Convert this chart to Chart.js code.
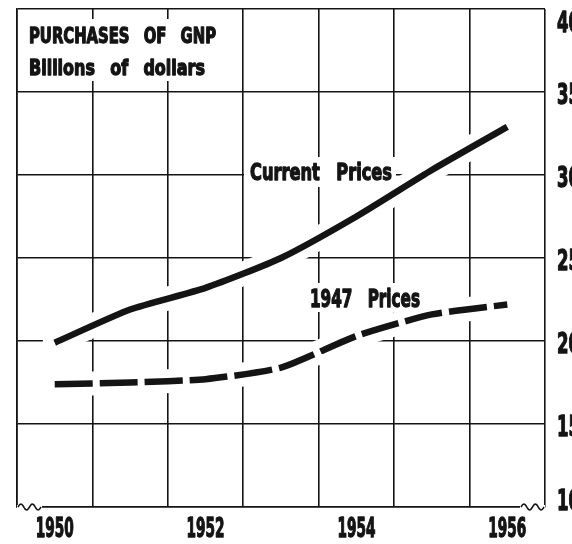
<!DOCTYPE html>
<html lang="en">
<head>
<meta charset="UTF-8">
<title>Purchases of GNP</title>
<script src="https://cdn.jsdelivr.net/npm/chart.js@4.4.0/dist/chart.umd.min.js"></script>
<style>
  html, body { margin: 0; padding: 0; background: #fff; }
</style>
</head>
<body>
<canvas id="gnpChart" width="572" height="544"></canvas>
<script>
// values (billions of dollars)
const years = ["1950", "1951", "1952", "1953", "1954", "1955", "1956"];
const yearLabels = ["1950", "", "1952", "", "1954", "", "1956"];
const currentPrices = [19.9, 21.9, 23.2, 25.0, 27.5, 30.3, 32.9];
const prices1947 = [17.4, 17.5, 17.7, 18.4, 20.3, 21.6, 22.2];
const yTicks = [10, 15, 20, 25, 30, 35, 40];
const titleLines = ["PURCHASES OF GNP", "Billions of dollars"];
const seriesNames = ["Current Prices", "1947 Prices"];

const INK = "#141414";
const FONT = '"Liberation Sans Narrow", "DejaVu Sans Condensed", "Liberation Sans", sans-serif';

// draws heavy bold text squeezed horizontally to a given width
function squeezeText(ctx, text, x, y, size, width, spacing, align) {
  ctx.save();
  ctx.font = "bold " + size + "px " + FONT;
  ctx.wordSpacing = (spacing || 0) + "px";
  ctx.textBaseline = "alphabetic";
  const w = ctx.measureText(text).width;
  const sx = width / w;
  ctx.translate(x, y);
  ctx.scale(sx, 1);
  ctx.textAlign = align || "left";
  ctx.fillStyle = INK;
  ctx.strokeStyle = INK;
  ctx.lineWidth = 1.3;
  ctx.lineJoin = "round";
  ctx.fillText(text, 0, 0);
  ctx.strokeText(text, 0, 0);
  ctx.restore();
}

function whiteBox(ctx, x, y, w, h) {
  ctx.fillStyle = "#fff";
  ctx.fillRect(x, y, w, h);
}

function wave(ctx, x0, y0, len) {
  ctx.save();
  whiteBox(ctx, x0 - 1, y0 - 2, len + 2, 4);
  ctx.beginPath();
  ctx.strokeStyle = INK;
  ctx.lineWidth = 1.6;
  for (let i = 0; i <= len; i++) {
    const yy = y0 - 3 * Math.sin((i / len) * Math.PI * 4);
    if (i === 0) ctx.moveTo(x0 + i, yy); else ctx.lineTo(x0 + i, yy);
  }
  ctx.stroke();
  ctx.restore();
}

const annotations = {
  id: "annotations",
  afterDraw(chart) {
    const ctx = chart.ctx;
    const xs = chart.scales.x;
    const ys = chart.scales.y;
    const area = chart.chartArea;

    // title block
    whiteBox(ctx, area.left + 3, area.top + 10, 205, 62);
    squeezeText(ctx, titleLines[0], 29, 43, 22, 187, 12);
    squeezeText(ctx, titleLines[1], 29, 75, 22, 176, 12);

    // series labels
    whiteBox(ctx, 244, 157, 152, 30);
    squeezeText(ctx, seriesNames[0], 250, 180, 23.5, 142, 14);
    whiteBox(ctx, 305, 283, 120, 29);
    squeezeText(ctx, seriesNames[1], 310, 307, 24, 110, 14);

    // x labels at the middle of each year column
    yearLabels.forEach((lab, i) => {
      if (!lab) return;
      squeezeText(ctx, lab, xs.getPixelForValue(i), 537, 26.5, 38, 0, "center");
    });

    // y labels on the right, end ones pulled inside
    yTicks.forEach(v => {
      let y = ys.getPixelForValue(v) + 1;
      y = Math.max(area.top + 12, Math.min(area.bottom - 8, y));
      squeezeText(ctx, String(v), area.right + 12, y + 10.5, 29, 23, 0);
    });

    // broken-axis squiggles on the bottom line
    wave(ctx, area.left + 1, area.bottom, 23);
    wave(ctx, area.right - 24, area.bottom, 23);
  }
};

const gridOpts = { color: INK, lineWidth: 1.6, drawTicks: false };

new Chart(document.getElementById("gnpChart"), {
  type: "line",
  data: {
    labels: years,
    datasets: [
      { label: "Current Prices", data: currentPrices, borderColor: INK, borderWidth: 6.5,
        borderCapStyle: "butt", tension: 0.2, pointRadius: 0, fill: false, order: 1 },
      { label: "1947 Prices", data: prices1947, borderColor: INK, borderWidth: 6.5,
        borderDash: [38, 7], borderCapStyle: "butt", tension: 0.2, pointRadius: 0, fill: false, order: 1 },
      // white halos under the lines, breaking the grid like the print does
      { label: "halo1", data: currentPrices, borderColor: "#fff", borderWidth: 24,
        borderCapStyle: "round", tension: 0.2, pointRadius: 0, fill: false, order: 5 },
      { label: "halo2", data: prices1947, borderColor: "#fff", borderWidth: 24,
        borderCapStyle: "round", tension: 0.2, pointRadius: 0, fill: false, order: 5 }
    ]
  },
  options: {
    responsive: false,
    animation: false,
    layout: { padding: { left: 17, right: 27, top: 9, bottom: 37 } },
    plugins: { legend: { display: false }, tooltip: { enabled: false } },
    scales: {
      x: {
        type: "category",
        offset: true,
        grid: Object.assign({ offset: true }, gridOpts),
        border: { display: true, color: INK, width: 1.6 },
        ticks: { display: false }
      },
      y: {
        min: 10, max: 40,
        grid: gridOpts,
        border: { display: true, color: INK, width: 1.6 },
        ticks: { display: false, stepSize: 5 }
      }
    }
  },
  plugins: [annotations]
});
</script>
</body>
</html>
